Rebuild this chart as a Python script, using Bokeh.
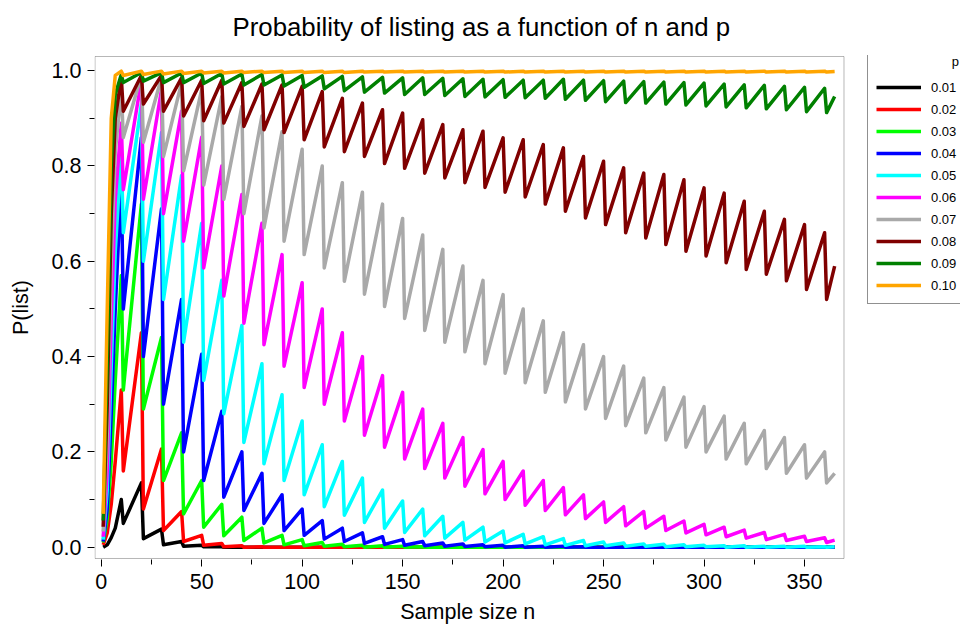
from bokeh.plotting import figure
from bokeh.models import Range1d, FixedTicker, Legend, LegendItem, BoxAnnotation
from bokeh.embed import file_html
from bokeh.resources import INLINE

# ---- data ----
p_labels = ["0.01", "0.02", "0.03", "0.04", "0.05", "0.06", "0.07", "0.08", "0.09", "0.10"]
colors = ["#000000", "#FF0000", "#00FF00", "#0000FF", "#00FFFF", "#FF00FF",
          "#A9A9A9", "#800000", "#008000", "#FFA500"]

start_n = [1, 3, 5, 7]
peak_n = [10, 20, 30, 40, 50, 60, 70, 80, 90, 100, 110, 120, 130, 140, 150, 160, 170, 180,
          190, 200, 210, 220, 230, 240, 250, 260, 270, 280, 290, 300, 310, 320, 330, 340, 350, 360]
trough_n = [11, 21, 31, 41, 51, 61, 71, 81, 91, 101, 111, 121, 131, 141, 151, 161, 171, 181,
            191, 201, 211, 221, 231, 241, 251, 261, 271, 281, 291, 301, 311, 321, 331, 341, 351, 361]
end_n = 365

start_01 = [0.0, 0.005, 0.02, 0.04]
peak_01 = [0.10, 0.135, 0.038, 0.012, 0.004, 0.001] + [0.0] * 30
trough_01 = [0.05, 0.018, 0.005, 0.002, 0.001] + [0.0] * 31
end_01 = 0.0

start_02 = [0.005, 0.03, 0.09, 0.18]
peak_02 = [0.33, 0.45, 0.206, 0.075, 0.025, 0.008, 0.003, 0.001] + [0.0] * 28
trough_02 = [0.16, 0.08, 0.035, 0.012, 0.004, 0.001] + [0.0] * 30
end_02 = 0.0

start_03 = [0.01, 0.06, 0.18, 0.35]
peak_03 = [0.57, 0.72, 0.44, 0.24, 0.14, 0.09, 0.063, 0.04, 0.025, 0.016, 0.01, 0.006,
           0.004, 0.003, 0.002, 0.001] + [0.0] * 20
trough_03 = [0.33, 0.29, 0.14, 0.07, 0.042, 0.024, 0.014, 0.009, 0.005, 0.003, 0.002,
             0.001] + [0.0] * 24
end_03 = 0.0

start_04 = [0.012, 0.08, 0.28, 0.5]
peak_04 = [0.77, 0.86, 0.71, 0.52, 0.405, 0.285, 0.2, 0.155, 0.11, 0.08, 0.056, 0.04, 0.03,
           0.022, 0.016, 0.012, 0.009, 0.007, 0.005, 0.004, 0.003, 0.002, 0.002, 0.001] + [0.0] * 12
trough_04 = [0.50, 0.40, 0.30, 0.20, 0.14, 0.105, 0.077, 0.05, 0.035, 0.025, 0.017, 0.012,
             0.008, 0.006, 0.004, 0.003, 0.002, 0.0015, 0.001] + [0.0] * 17
end_04 = 0.0

start_05 = [0.016, 0.12, 0.38, 0.62]
peak_05 = [0.83, 0.93, 0.87, 0.78, 0.68, 0.56, 0.465, 0.385, 0.32, 0.265, 0.215, 0.18, 0.145,
           0.12, 0.097, 0.08, 0.065, 0.052, 0.042, 0.034, 0.027, 0.022, 0.018, 0.014, 0.011,
           0.009, 0.007, 0.006, 0.005, 0.004, 0.003, 0.003, 0.002, 0.002, 0.002, 0.001]
trough_05 = [0.66, 0.60, 0.52, 0.43, 0.35, 0.28, 0.22, 0.175, 0.14, 0.11, 0.085, 0.067, 0.052,
             0.04, 0.031, 0.024, 0.019, 0.015, 0.011, 0.009, 0.007, 0.005, 0.004, 0.003, 0.003,
             0.002, 0.002, 0.001, 0.001, 0.001, 0.0, 0.0, 0.0, 0.0, 0.0, 0.0]
end_05 = 0.001

start_06 = [0.022, 0.16, 0.48, 0.73]
peak_06 = [0.89, 0.98, 0.96, 0.915, 0.86, 0.80, 0.74, 0.68, 0.614, 0.555, 0.50, 0.45, 0.40,
           0.36, 0.325, 0.29, 0.26, 0.23, 0.205, 0.18, 0.16, 0.14, 0.125, 0.11, 0.095, 0.085,
           0.075, 0.065, 0.055, 0.048, 0.042, 0.036, 0.031, 0.027, 0.023, 0.02]
trough_06 = [0.75, 0.73, 0.70, 0.642, 0.586, 0.527, 0.47, 0.425, 0.38, 0.335, 0.30, 0.265,
             0.235, 0.21, 0.185, 0.165, 0.145, 0.128, 0.112, 0.10, 0.088, 0.077, 0.068, 0.06,
             0.052, 0.045, 0.04, 0.035, 0.03, 0.026, 0.022, 0.019, 0.016, 0.014, 0.012, 0.01]
end_06 = 0.015

start_07 = [0.033, 0.23, 0.6, 0.83]
peak_07 = [0.96, 0.99, 0.985, 0.975, 0.96, 0.945, 0.925, 0.905, 0.872, 0.835, 0.80, 0.765,
           0.745, 0.72, 0.69, 0.655, 0.625, 0.59, 0.56, 0.53, 0.50, 0.475, 0.45, 0.425, 0.40,
           0.38, 0.355, 0.335, 0.315, 0.295, 0.275, 0.26, 0.245, 0.23, 0.215, 0.20]
trough_07 = [0.86, 0.85, 0.82, 0.79, 0.76, 0.73, 0.70, 0.67, 0.642, 0.614, 0.586, 0.558,
             0.531, 0.505, 0.48, 0.455, 0.43, 0.41, 0.385, 0.365, 0.345, 0.325, 0.305, 0.29,
             0.27, 0.255, 0.24, 0.225, 0.21, 0.20, 0.185, 0.175, 0.165, 0.155, 0.145, 0.135]
end_07 = 0.155

start_08 = [0.043, 0.3, 0.7, 0.9]
peak_08 = [0.985, 0.99, 0.99, 0.985, 0.98, 0.98, 0.975, 0.972, 0.97, 0.967, 0.956, 0.942,
           0.932, 0.918, 0.911, 0.897, 0.887, 0.876, 0.873, 0.859, 0.855, 0.845, 0.838, 0.82,
           0.81, 0.796, 0.785, 0.782, 0.771, 0.754, 0.743, 0.726, 0.705, 0.688, 0.677, 0.66]
trough_08 = [0.915, 0.93, 0.915, 0.905, 0.895, 0.89, 0.883, 0.876, 0.87, 0.855, 0.84, 0.83,
             0.82, 0.805, 0.795, 0.785, 0.775, 0.765, 0.755, 0.745, 0.735, 0.72, 0.705, 0.691,
             0.677, 0.66, 0.649, 0.635, 0.621, 0.611, 0.597, 0.583, 0.573, 0.559, 0.541, 0.52]
end_08 = 0.59

start_09 = [0.056, 0.38, 0.8, 0.95]
peak_09 = [0.992, 0.996, 0.996, 0.995, 0.995, 0.994, 0.993, 0.992, 0.991, 0.99, 0.989, 0.988,
           0.987, 0.986, 0.985, 0.985, 0.984, 0.983, 0.982, 0.981, 0.98, 0.98, 0.982, 0.98,
           0.979, 0.978, 0.977, 0.976, 0.975, 0.974, 0.972, 0.97, 0.969, 0.967, 0.965, 0.963]
trough_09 = [0.975, 0.978, 0.975, 0.975, 0.973, 0.972, 0.97, 0.97, 0.968, 0.965, 0.962, 0.958,
             0.955, 0.953, 0.95, 0.95, 0.948, 0.946, 0.945, 0.944, 0.943, 0.942, 0.94, 0.938,
             0.935, 0.933, 0.932, 0.93, 0.928, 0.926, 0.924, 0.922, 0.92, 0.918, 0.914, 0.912]
end_09 = 0.946

start_10 = [0.07, 0.5, 0.9, 0.99]
peak_10 = [0.999] * 36
trough_10 = [0.99, 0.992, 0.993, 0.994, 0.995, 0.995, 0.996, 0.996, 0.996, 0.996, 0.996, 0.996,
             0.997, 0.997, 0.997, 0.997, 0.997, 0.997, 0.997, 0.997, 0.997, 0.997, 0.997, 0.997,
             0.997, 0.997, 0.997, 0.997, 0.997, 0.997, 0.997, 0.997, 0.997, 0.997, 0.997, 0.997]
end_10 = 0.998

series = [
    (start_01, peak_01, trough_01, end_01),
    (start_02, peak_02, trough_02, end_02),
    (start_03, peak_03, trough_03, end_03),
    (start_04, peak_04, trough_04, end_04),
    (start_05, peak_05, trough_05, end_05),
    (start_06, peak_06, trough_06, end_06),
    (start_07, peak_07, trough_07, end_07),
    (start_08, peak_08, trough_08, end_08),
    (start_09, peak_09, trough_09, end_09),
    (start_10, peak_10, trough_10, end_10),
]

x_ticks = [0, 50, 100, 150, 200, 250, 300, 350]
x_minor = [25, 75, 125, 175, 225, 275, 325]
y_ticks = [0.0, 0.2, 0.4, 0.6, 0.8, 1.0]
y_minor = [0.1, 0.3, 0.5, 0.7, 0.9]

# plot-box limits in data units (the frame itself runs on to the right edge for the legend)
BOX_X0, BOX_X1 = -3.085, 369.65
BOX_Y0, BOX_Y1 = -0.02366, 1.0297

FONT = "Liberation Sans"

p = figure(width=960, height=626,
           x_range=Range1d(-3.334, 427.63), y_range=Range1d(-0.02576, 1.03183),
           output_backend="svg", toolbar_location=None,
           min_border_left=94, min_border_right=0, min_border_top=54, min_border_bottom=67)

p.title.text = "Probability of listing as a function of n and p"
p.title.align = "left"
p.title.offset = 138
p.title.vertical_align = "top"
p.title.standoff = 25
p.title.text_font = FONT
p.title.text_font_size = "25.8px"
p.title.text_font_style = "normal"
p.title.text_color = "black"

p.grid.visible = False
p.outline_line_color = None
p.background_fill_color = "white"
p.border_fill_color = "white"

for ax in (p.xaxis[0], p.yaxis[0]):
    ax.axis_line_color = None
    ax.major_tick_line_color = "black"
    ax.minor_tick_line_color = "black"
    ax.major_tick_in = 0
    ax.major_tick_out = 7
    ax.minor_tick_in = 0
    ax.minor_tick_out = 5
    ax.major_label_text_font = FONT
    ax.major_label_text_font_size = "21.5px"
    ax.major_label_text_color = "black"
    ax.axis_label_text_font = FONT
    ax.axis_label_text_font_size = "21.5px"
    ax.axis_label_text_font_style = "normal"
    ax.axis_label_text_color = "black"

p.xaxis.ticker = FixedTicker(ticks=x_ticks, minor_ticks=x_minor)
p.yaxis.ticker = FixedTicker(ticks=y_ticks, minor_ticks=y_minor)
p.yaxis.major_label_overrides = {0.0: "0.0", 0.2: "0.2", 0.4: "0.4", 0.6: "0.6", 0.8: "0.8", 1.0: "1.0"}
# trailing no-break spaces keep the label centred under the plot box, not the wider frame
p.xaxis.axis_label = "Sample size n" + "\u00a0" * 20
p.yaxis.axis_label = "P(list)"
p.xaxis.major_label_standoff = 7
p.yaxis.major_label_standoff = 6
p.xaxis.axis_label_standoff = 8
p.yaxis.axis_label_standoff = 16

p.add_layout(BoxAnnotation(left=BOX_X0, right=BOX_X1, bottom=BOX_Y0, top=BOX_Y1,
                           fill_alpha=0, line_color="#111111", line_width=1, level="overlay"))

items = []
for lab, col, (st, pk, tr, en) in zip(p_labels, colors, series):
    xs = list(start_n)
    ys = list(st)
    for a, b, va, vb in zip(peak_n, trough_n, pk, tr):
        xs += [a, b]
        ys += [va, vb]
    xs.append(end_n)
    ys.append(en)
    r = p.line(xs, ys, line_color=col, line_width=3.5, line_join="round")
    items.append(LegendItem(label=lab, renderers=[r]))

# legend heading "p" sits far right, as in the reference (legend box runs past the edge)
legend = Legend(items=items, location=(773, 255), orientation="vertical",
                border_line_color="#222222", border_line_width=1,
                background_fill_color="white", background_fill_alpha=1.0,
                padding=8, spacing=2, margin=0,
                glyph_width=45, glyph_height=20, label_height=20, label_width=40,
                label_standoff=10, label_text_font=FONT, label_text_font_size="13px",
                label_text_color="black",
                title="\u00a0" * 21 + "p", title_text_font=FONT, title_text_font_size="13px",
                title_text_font_style="normal", title_text_color="black", title_standoff=8)
p.add_layout(legend)

open("out.html", "w").write(file_html(p, INLINE))
